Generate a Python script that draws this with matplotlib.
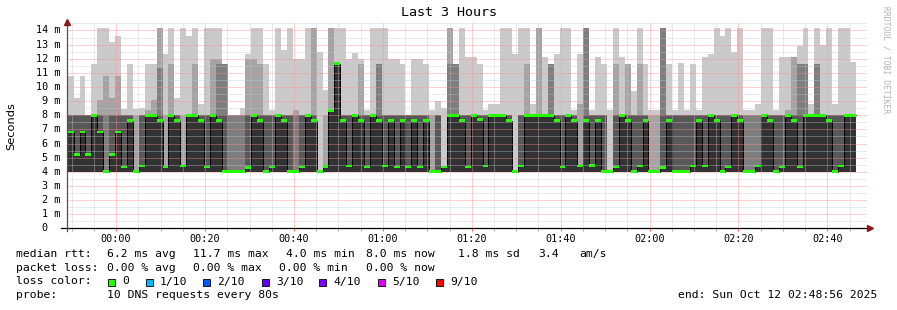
import matplotlib
matplotlib.use("Agg")
import matplotlib.pyplot as plt
from matplotlib.patches import Rectangle
import numpy as np

W, H = 897, 310
MONO = "DejaVu Sans Mono"

# time axis in minutes from 00:00 (graph covers 23:48:56 .. 02:48:56)
t_start, t_end = -11.067, 168.933
first_bin = -10.91
step = 80 / 60.0

# median rtt per 80 s step (ms)
median = [6.82, 5.21, 6.82, 5.21, 8.0, 6.82, 4.0, 5.21, 6.82, 4.34,
          7.62, 4.0, 4.41, 8.0, 8.0, 7.62, 4.34, 8.0, 7.62, 4.41,
          8.0, 8.0, 7.62, 4.34, 8.0, 7.62, 4.0, 4.0, 4.0, 4.0,
          4.32, 8.0, 7.62, 4.0, 4.34, 8.0, 7.62, 4.0, 4.0, 4.34,
          8.0, 7.62, 4.0, 4.36, 8.33, 11.65, 7.62, 4.41, 8.0, 7.62,
          4.34, 8.0, 7.62, 4.41, 7.62, 4.34, 7.62, 4.34, 7.62, 4.34,
          7.62, 4.0, 4.0, 4.34, 8.0, 8.0, 7.62, 4.34, 8.0, 7.7,
          4.41, 8.0, 8.0, 8.0, 7.62, 4.0, 4.41, 8.0, 8.0, 8.0,
          8.0, 8.0, 7.62, 4.34, 8.0, 7.62, 4.41, 7.62, 4.45, 7.62,
          4.0, 4.0, 4.34, 8.0, 7.62, 4.0, 4.41, 7.62, 4.0, 4.0,
          4.32, 7.62, 4.0, 4.0, 4.0, 4.41, 7.62, 4.41, 8.0, 7.62,
          4.0, 4.34, 8.0, 7.62, 4.0, 4.0, 4.41, 8.0, 7.62, 4.0,
          4.34, 8.0, 7.62, 4.34, 8.0, 8.0, 8.0, 8.0, 7.62, 4.0,
          4.41, 8.0, 8.0]

# smoke: sorted ping values (ping1..ping5 sit on the 4 ms floor)
floor = [4.0] * len(median)
ping6 = median
ping7 = [8, 8, 8, 8, 8, 8, 4.0, 8, 8, 8,
         8, 4.0, 8, 8, 8, 8, 4.34, 8, 8, 4.41,
         8, 8, 8, 8, 8, 8, 8, 4.0, 4.0, 4.0,
         8, 8, 8, 8, 8, 8, 8, 8, 4.0, 8,
         8, 8, 4.0, 4.36, 8.33, 11.65, 8, 8, 8, 8,
         8, 8, 8, 8, 8, 8, 8, 8, 8, 8,
         8, 4.0, 8, 4.34, 8, 8, 8, 8, 8, 8,
         8, 8, 8, 8, 8, 4.0, 8, 8, 8, 8,
         8, 8, 8, 8, 8, 8, 4.41, 8, 8, 8,
         8, 4.0, 8, 8, 8, 8, 8, 8, 4.0, 4.0,
         8, 8, 8, 8, 8, 8, 8, 8, 8, 8,
         8, 8, 8, 8, 4.0, 4.0, 4.41, 8, 8, 8,
         8, 8, 8, 8, 8, 8, 8, 8, 8, 8,
         8, 8, 8]
ping8 = [8, 8, 8, 8, 8, 8, 8, 8, 8, 8,
         8, 4.0, 8, 8, 8, 11.35, 4.34, 8, 8, 4.41,
         8, 8, 8, 8, 8, 11.65, 11.65, 8, 8, 8,
         8, 8, 8, 8, 8, 8, 8, 8, 8, 8,
         8, 8, 4.0, 4.36, 8.33, 11.65, 8, 8, 8, 8,
         8, 8, 11.65, 8, 8, 8, 8, 8, 8, 8,
         8, 4.0, 8, 4.34, 11.65, 11.65, 8, 8, 8, 8,
         8, 8, 8, 8, 8, 4.0, 8, 8, 8, 8,
         8, 11.65, 8, 8, 8, 8, 4.41, 14.17, 8, 8,
         8, 4.0, 8, 8, 8, 8, 8, 8, 4.0, 4.0,
         14.17, 8, 8, 8, 8, 8, 8, 8, 8, 8,
         8, 8, 8, 8, 8, 8, 8, 8, 8, 8,
         8, 8, 8, 11.65, 11.65, 8, 11.65, 8, 8, 8,
         8, 8, 8]
ping9 = [8, 8, 8, 8, 8, 9.06, 10.76, 9.2, 10.76, 8,
         8, 8, 8, 8.4, 9.06, 14.17, 8, 11.65, 8, 8,
         8, 11.65, 8, 8, 12.0, 12.0, 11.65, 8, 8, 8,
         12.0, 12.0, 11.65, 8, 8, 8, 8, 8, 8.4, 8,
         8, 14.17, 4.0, 8, 14.17, 11.65, 8, 8, 8, 11.6,
         8, 8, 11.65, 8, 8, 8, 8, 8, 8, 8,
         8, 8, 8, 4.34, 14.17, 11.65, 8, 8, 8, 8,
         8, 8, 8, 8, 8, 4.0, 8, 11.65, 8, 14.17,
         8, 11.65, 8, 8, 8, 8, 8.8, 14.17, 8, 8,
         8, 4.0, 11.65, 8, 11.65, 8, 11.65, 8, 8, 8,
         14.17, 8, 8, 8, 8, 8, 8, 8, 8, 8,
         8, 8, 8, 8, 8, 8, 8, 8, 8, 8,
         8, 8.4, 12.1, 11.65, 11.65, 8, 11.65, 8, 8, 8,
         8, 8, 8]
ping10 = [10.76, 9.22, 10.76, 8, 11.65, 14.17, 14.17, 13.18, 13.6, 8.42,
          11.65, 8.45, 8.5, 11.65, 11.65, 14.17, 12.36, 14.17, 9.22, 14.17,
          13.6, 14.17, 8.82, 14.17, 14.17, 14.17, 11.65, 8, 8, 8.5,
          12.36, 14.17, 14.17, 11.65, 8.4, 14.17, 12.6, 14.17, 12.0, 12.0,
          14.17, 14.17, 12.5, 9.8, 14.17, 14.17, 14.17, 12.0, 12.4, 12.0,
          8.4, 14.17, 14.17, 14.17, 12.0, 12.0, 11.65, 8, 12.0, 12.0,
          11.65, 8.4, 9.0, 8.5, 14.17, 11.65, 14.17, 12.1, 12.1, 11.65,
          8.4, 8.8, 8.8, 14.17, 14.17, 12.36, 14.17, 14.17, 8.8, 14.17,
          12.1, 11.65, 12.36, 14.17, 14.17, 8.4, 12.36, 14.17, 8.4, 12.1,
          11.65, 8.4, 14.17, 12.1, 11.65, 9.7, 14.17, 11.65, 8.4, 8.4,
          14.17, 11.65, 8.4, 11.7, 8.4, 11.65, 8.4, 12.1, 12.36, 14.17,
          13.6, 14.17, 12.5, 14.17, 8.4, 8.4, 8.8, 14.17, 14.17, 8.4,
          12.1, 12.1, 12.1, 12.9, 14.17, 8.8, 14.17, 13.0, 14.17, 8.8,
          14.17, 14.17, 11.8]

ytick_vals = list(range(15))
ytick_labels = ["0"] + ["%d m" % v for v in range(1, 15)]
xtick_vals = [0, 20, 40, 60, 80, 100, 120, 140, 160]
xtick_labels = ["00:00", "00:20", "00:40", "01:00", "01:20",
                "01:40", "02:00", "02:20", "02:40"]

legend_rtt = [("median rtt:", 16), ("6.2 ms avg", 107), ("11.7 ms max", 193),
              ("4.0 ms min", 286), ("8.0 ms now", 366), ("1.8 ms sd", 458),
              ("3.4", 538), ("am/s", 579)]
legend_loss = [("packet loss:", 16), ("0.00 % avg", 107), ("0.00 % max", 193),
               ("0.00 % min", 279), ("0.00 % now", 366)]
loss_names = ["0", "1/10", "2/10", "3/10", "4/10", "5/10", "9/10"]
loss_colors = ["#26ff00", "#00b8ff", "#0059ff", "#5e00ff", "#7e00ff", "#dd00ff", "#ff0000"]
loss_box_x = [108, 146, 203, 262, 319, 378, 436]

smoke_colors = ["#cacaca", "#a4a4a4", "#7e7e7e", "#585858", "#323232"]

fig = plt.figure(figsize=(W / 100, H / 100), dpi=100)
fig.patch.set_facecolor("white")
ax = fig.add_axes([67 / W, 1 - 228.3 / H, 800 / W, (228.3 - 23.4) / H])
ax.set_xlim(t_start, t_end)
ax.set_ylim(0, 14.5)
for s in ax.spines.values():
    s.set_visible(False)

edges = first_bin + step * np.arange(len(median) + 1)

def ext(a):
    a = np.asarray(a, dtype=float)
    return np.append(a, a[-1])

bands = [(floor, ping10), (floor, ping9), (floor, ping8), (floor, ping7), (floor, ping6)]
for (lo, hi), c in zip(bands, smoke_colors):
    ax.fill_between(edges, ext(lo), ext(hi), step="post", color=c, lw=0, zorder=2)
# dark edges of the innermost smoke band
ax.step(edges, ext(ping6), where="post", color="#000000", lw=0.7, zorder=2.5)

# grid (drawn over the smoke, like rrdtool)
grid_minor = dict(color="#c8c8c8", alpha=0.75, lw=0.72, ls=(0, (1, 1)), zorder=3)
grid_major = dict(color="#ff8c8c", alpha=0.8, lw=0.72, ls=(0, (1, 1)), zorder=3)
for v in np.arange(0.5, 14.6, 1.0):
    ax.axhline(v, **grid_minor)
for v in ytick_vals[1:]:
    ax.axhline(v, **grid_major)
for v in np.arange(-10, 169, 5):
    ax.axvline(v, **(grid_major if v % 20 == 0 else grid_minor))

# median bars
med = ext(median)
ax.fill_between(edges, med - 0.1, med + 0.1, step="post", color="#26ff00", lw=0, zorder=4)

# axes lines + arrows
ax.plot([-0.007, 1.004], [0, 0], transform=ax.transAxes, color="black", lw=0.9,
        clip_on=False, zorder=5)
ax.plot([0, 0], [-0.012, 1.0], transform=ax.transAxes, color="#505050", lw=0.9,
        clip_on=False, zorder=5)
ax.plot([1.004], [0], transform=ax.transAxes, marker=">", ms=4, color="#8b1a1a",
        clip_on=False, zorder=6)
ax.plot([0], [1.007], transform=ax.transAxes, marker="^", ms=4, color="#8b1a1a",
        clip_on=False, zorder=6)

# ticks
ax.set_xticks(xtick_vals)
ax.set_xticklabels(xtick_labels, fontfamily=MONO, fontsize=7.3)
ax.set_xticks(np.arange(-10, 169, 5), minor=True)
ax.tick_params(axis="x", which="major", length=2.5, width=0.7, color="#ff6060", pad=1.8)
ax.tick_params(axis="x", which="minor", length=2.0, width=0.7, color="#b0b0b0")
ax.set_yticks([])
for v, lab in zip(ytick_vals, ytick_labels):
    xoff = 60 if lab != "0" else 47.5
    fig.text(xoff / W, 1 - (228.3 - v * 14.13) / H, lab, ha="right", va="center",
             fontfamily=MONO, fontsize=7.3)

# title and labels
fig.text(448.5 / W, 1 - 12 / H, "Last 3 Hours", ha="center", va="center",
         fontfamily=MONO, fontsize=9.6)
fig.text(11 / W, 1 - 126 / H, "Seconds", ha="center", va="center", rotation=90,
         fontfamily="DejaVu Sans", fontsize=8.2)
fig.text(886 / W, 1 - 60 / H, "RRDTOOL / TOBI OETIKER", ha="center", va="center",
         rotation=270, fontfamily=MONO, fontsize=5.8, color="#b4b4b4")

# legend
for s, x in legend_rtt:
    fig.text(x / W, 1 - 254 / H, s, ha="left", va="center", fontfamily=MONO, fontsize=8.2)
for s, x in legend_loss:
    fig.text(x / W, 1 - 268 / H, s, ha="left", va="center", fontfamily=MONO, fontsize=8.2)
fig.text(16 / W, 1 - 281.5 / H, "loss color:", ha="left", va="center",
         fontfamily=MONO, fontsize=8.2)
for name, c, bx in zip(loss_names, loss_colors, loss_box_x):
    fig.patches.append(Rectangle((bx / W, 1 - 285.5 / H), 7 / W, 7 / H,
                                 transform=fig.transFigure, facecolor=c,
                                 edgecolor="black", lw=0.6))
    fig.text((bx + 14) / W, 1 - 281.5 / H, name, ha="left", va="center",
             fontfamily=MONO, fontsize=8.2)
fig.text(16 / W, 1 - 295 / H, "probe:", ha="left", va="center", fontfamily=MONO, fontsize=8.2)
fig.text(107 / W, 1 - 295 / H, "10 DNS requests every 80s", ha="left", va="center",
         fontfamily=MONO, fontsize=8.2)
fig.text(678 / W, 1 - 295 / H, "end: Sun Oct 12 02:48:56 2025", ha="left", va="center",
         fontfamily=MONO, fontsize=8.2)

fig.savefig("out.png", dpi=100, facecolor="white")
